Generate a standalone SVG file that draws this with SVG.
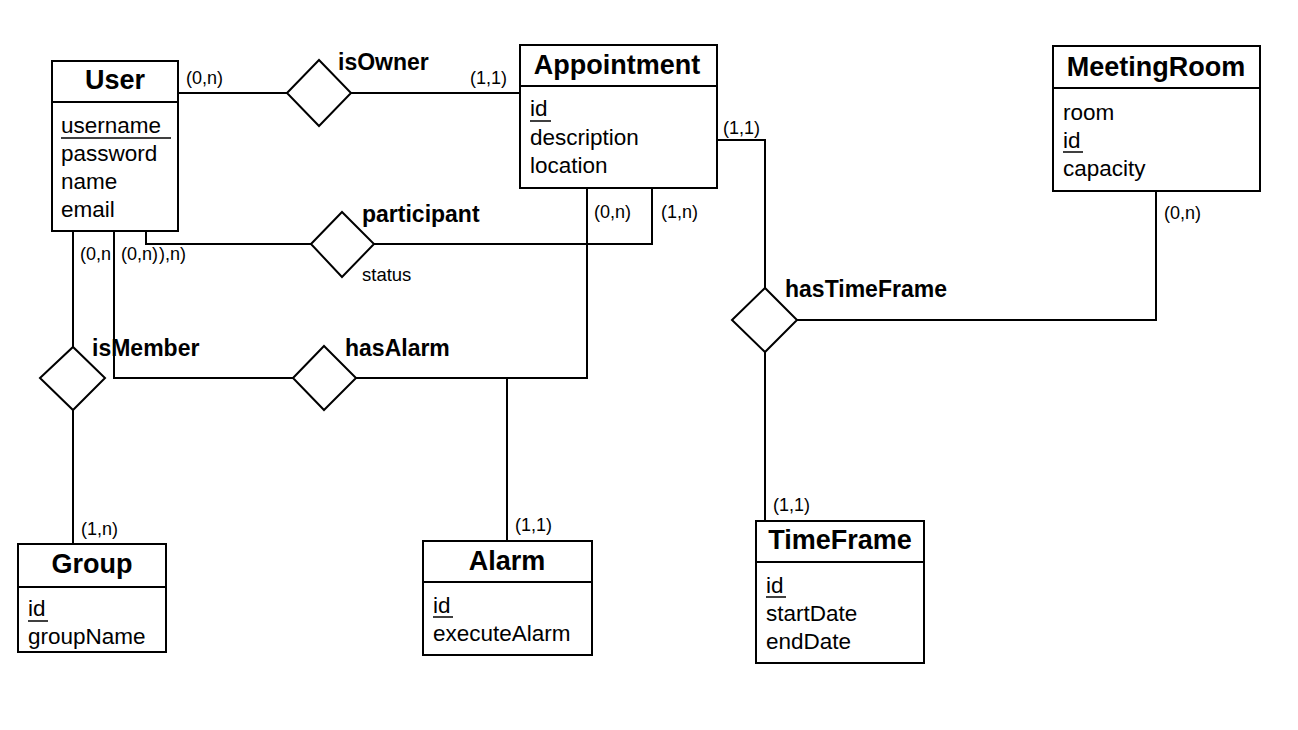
<svg xmlns="http://www.w3.org/2000/svg" width="1298" height="730" viewBox="0 0 1298 730">
<style>
.box{fill:#fff;stroke:#000;stroke-width:2}
.sep{stroke:#000;stroke-width:2}
.dia{fill:#fff;stroke:#000;stroke-width:2}
.ln{fill:none;stroke:#000;stroke-width:2}
.ul{stroke:#000;stroke-width:1.5}
.title{font-family:"Liberation Sans",Arial,sans-serif;font-weight:bold;font-size:27px;text-anchor:middle;fill:#000}
.attr{font-family:"Liberation Sans",Arial,sans-serif;font-size:22.5px;fill:#000}
.rel{font-family:"Liberation Sans",Arial,sans-serif;font-weight:bold;font-size:23px;fill:#000}
.card{font-family:"Liberation Sans",Arial,sans-serif;font-size:18px;fill:#000}
.note{font-family:"Liberation Sans",Arial,sans-serif;font-size:18.5px;fill:#000}
</style>
<rect width="1298" height="730" fill="#fff"/>
<g id="connectors">
<polyline class="ln" points="178,93 287,93"/>
<polyline class="ln" points="351,93 520,93"/>
<polyline class="ln" points="717,140 765,140 765,288"/>
<polyline class="ln" points="765,352 765,521"/>
<polyline class="ln" points="797,320 1156,320 1156,191"/>
<polyline class="ln" points="146,231 146,244 311,244"/>
<polyline class="ln" points="374,244 652,244 652,188"/>
<polyline class="ln" points="114,231 114,378 293,378"/>
<polyline class="ln" points="356,378 587,378 587,188"/>
<polyline class="ln" points="507,378 507,541"/>
<polyline class="ln" points="73,231 73,347"/>
<polyline class="ln" points="73,410 73,544"/>
<text class="card" x="186" y="84">(0,n)</text>
<text class="card" x="470" y="84">(1,1)</text>
<text class="card" x="723" y="134">(1,1)</text>
<text class="card" x="594" y="218">(0,n)</text>
<text class="card" x="661" y="218">(1,n)</text>
<text class="card" x="1164" y="219">(0,n)</text>
<text class="card" x="80" y="260">(0,n</text>
<text class="card" x="121" y="260">(0,n)</text>
<text class="card" x="159" y="260">),n)</text>
<text class="card" x="81" y="535">(1,n)</text>
<text class="card" x="515" y="531">(1,1)</text>
<text class="card" x="773" y="511">(1,1)</text>
</g>
<g id="User">
<rect class="box" x="52" y="61" width="126" height="170"/>
<line class="sep" x1="52" y1="102" x2="178" y2="102"/>
<text class="title" x="115" y="89">User</text>
<text class="attr" x="61" y="133">username</text>
<line class="ul" x1="61" y1="138" x2="171" y2="138"/>
<text class="attr" x="61" y="161">password</text>
<text class="attr" x="61" y="189">name</text>
<text class="attr" x="61" y="217">email</text>
</g>
<g id="Appointment">
<rect class="box" x="520" y="45" width="197" height="143"/>
<line class="sep" x1="520" y1="86" x2="717" y2="86"/>
<text class="title" x="617" y="74">Appointment</text>
<text class="attr" x="530" y="116">id</text>
<line class="ul" x1="530" y1="121" x2="551" y2="121"/>
<text class="attr" x="530" y="145">description</text>
<text class="attr" x="530" y="173">location</text>
</g>
<g id="MeetingRoom">
<rect class="box" x="1053" y="46" width="207" height="145"/>
<line class="sep" x1="1053" y1="88" x2="1260" y2="88"/>
<text class="title" x="1156" y="76">MeetingRoom</text>
<text class="attr" x="1063" y="120">room</text>
<text class="attr" x="1063" y="148">id</text>
<line class="ul" x1="1063" y1="152" x2="1083" y2="152"/>
<text class="attr" x="1063" y="176">capacity</text>
</g>
<g id="Group">
<rect class="box" x="18" y="544" width="148" height="108"/>
<line class="sep" x1="18" y1="587" x2="166" y2="587"/>
<text class="title" x="92" y="573">Group</text>
<text class="attr" x="28" y="616">id</text>
<line class="ul" x1="28" y1="621" x2="48" y2="621"/>
<text class="attr" x="28" y="644">groupName</text>
</g>
<g id="Alarm">
<rect class="box" x="423" y="541" width="169" height="114"/>
<line class="sep" x1="423" y1="582" x2="592" y2="582"/>
<text class="title" x="507" y="570">Alarm</text>
<text class="attr" x="433" y="613">id</text>
<line class="ul" x1="433" y1="617" x2="453" y2="617"/>
<text class="attr" x="433" y="641">executeAlarm</text>
</g>
<g id="TimeFrame">
<rect class="box" x="756" y="521" width="168" height="142"/>
<line class="sep" x1="756" y1="562" x2="924" y2="562"/>
<text class="title" x="840" y="549">TimeFrame</text>
<text class="attr" x="766" y="593">id</text>
<line class="ul" x1="766" y1="597" x2="786" y2="597"/>
<text class="attr" x="766" y="621">startDate</text>
<text class="attr" x="766" y="649">endDate</text>
</g>
<g id="isOwner">
<polygon class="dia" points="287,93 319,60 351,93 319,126"/>
<text class="rel" x="338" y="70">isOwner</text>
</g>
<g id="participant">
<polygon class="dia" points="311,244 342,212 374,244 342,277"/>
<text class="rel" x="362" y="222">participant</text>
<text class="note" x="362" y="281">status</text>
</g>
<g id="hasAlarm">
<polygon class="dia" points="293,378 324,346 356,378 324,410"/>
<text class="rel" x="345" y="356">hasAlarm</text>
</g>
<g id="isMember">
<polygon class="dia" points="40,378 73,347 105,378 73,410"/>
<text class="rel" x="92" y="356">isMember</text>
</g>
<g id="hasTimeFrame">
<polygon class="dia" points="732,320 765,288 797,320 765,352"/>
<text class="rel" x="785" y="297">hasTimeFrame</text>
</g>
</svg>
